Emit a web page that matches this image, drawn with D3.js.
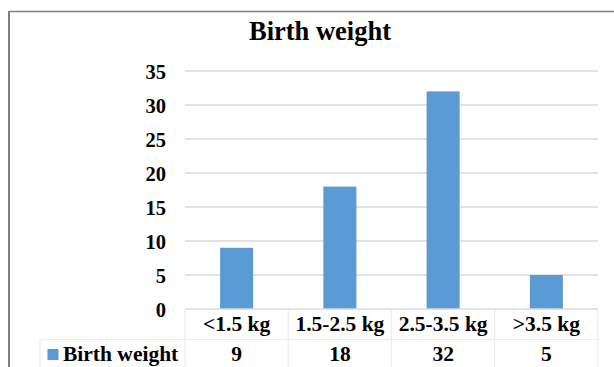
<!DOCTYPE html>
<html><head><meta charset="utf-8">
<script src="https://cdn.jsdelivr.net/npm/d3@7"></script>
<style>html,body{margin:0;padding:0;background:#fff;overflow:hidden}</style>
</head><body>
<svg id="chart" width="614" height="367"></svg>
<script>
const categories = ["<1.5 kg", "1.5-2.5 kg", "2.5-3.5 kg", ">3.5 kg"];
const values = [9, 18, 32, 5];
const seriesName = "Birth weight";
const chartTitle = "Birth weight";
const yTicks = [0, 5, 10, 15, 20, 25, 30, 35];

(function () {
const svg = d3.select("#chart");
const font = "'Liberation Serif','Times New Roman',serif";
const pLeft = 185, pRight = 598, pTop = 71, pBottom = 309;

// outer frame (cropped)
svg.append("line").attr("x1", 9).attr("x2", 614).attr("y1", 11.5).attr("y2", 11.5)
  .attr("stroke", "#7f7f7f").attr("stroke-width", 1.5);
svg.append("line").attr("x1", 9).attr("x2", 9).attr("y1", 11).attr("y2", 367)
  .attr("stroke", "#7f7f7f").attr("stroke-width", 2);

const x = d3.scaleBand().domain(categories).range([pLeft, pRight]).paddingInner(0.68).paddingOuter(0.34);
const cells = d3.scaleBand().domain(categories).range([pLeft, pRight]).padding(0);
const y = d3.scaleLinear().domain([0, 35]).range([pBottom, pTop]);

// gridlines
svg.append("g").selectAll("line").data(yTicks.filter(d => d > 0)).join("line")
  .attr("x1", pLeft).attr("x2", pRight)
  .attr("y1", d => y(d)).attr("y2", d => y(d))
  .attr("stroke", "#d9d9d9").attr("stroke-width", 1.5);

// y axis labels
const yAxis = d3.axisLeft(y).tickValues(yTicks).tickSize(0).tickPadding(0).tickFormat(d3.format("d"));
const ga = svg.append("g").attr("transform", `translate(166,0)`).call(yAxis);
ga.select(".domain").remove();
ga.selectAll("text").attr("font-family", font).attr("font-weight", "bold")
  .attr("font-size", "20.5px").attr("fill", "#000").attr("dy", "0.35em");

// bars
svg.append("g").selectAll("rect").data(values).join("rect")
  .attr("x", (d, i) => x(categories[i]))
  .attr("width", x.bandwidth())
  .attr("y", d => y(d))
  .attr("height", d => y(0) - y(d))
  .attr("fill", "#5b9bd5");

// data table lines
const tl = svg.append("g").attr("stroke", "#ececec").attr("stroke-width", 1.2);
tl.append("line").attr("x1", pLeft).attr("x2", pRight).attr("y1", pBottom).attr("y2", pBottom)
  .attr("stroke", "#d9d9d9").attr("stroke-width", 1.5);
tl.append("line").attr("x1", 40).attr("x2", pRight).attr("y1", 339.5).attr("y2", 339.5);
tl.append("line").attr("x1", 40).attr("x2", 40).attr("y1", 339.5).attr("y2", 367);
tl.selectAll("line.v").data(categories.concat(["end"])).join("line").attr("class", "v")
  .attr("x1", (d, i) => i < categories.length ? cells(d) : pRight)
  .attr("x2", (d, i) => i < categories.length ? cells(d) : pRight)
  .attr("y1", pBottom).attr("y2", 367);

// category labels
svg.append("g").selectAll("text").data(categories).join("text")
  .attr("x", d => cells(d) + cells.bandwidth() / 2).attr("y", 331)
  .attr("text-anchor", "middle").attr("font-family", font).attr("font-weight", "bold")
  .attr("font-size", "21.5px").text(d => d);

// values row
svg.append("g").selectAll("text").data(values).join("text")
  .attr("x", (d, i) => cells(categories[i]) + cells.bandwidth() / 2).attr("y", 361)
  .attr("text-anchor", "middle").attr("font-family", font).attr("font-weight", "bold")
  .attr("font-size", "21.5px").text(d => d);

// legend key
svg.append("rect").attr("x", 47.5).attr("y", 349).attr("width", 11).attr("height", 11).attr("fill", "#5b9bd5");
svg.append("text").attr("x", 63).attr("y", 361).attr("font-family", font).attr("font-weight", "bold")
  .attr("font-size", "21.5px").text(seriesName);

// title
svg.append("text").attr("x", 320).attr("y", 40).attr("text-anchor", "middle")
  .attr("font-family", font).attr("font-weight", "bold").attr("font-size", "26.5px").text(chartTitle);
})();
</script>
</body></html>
